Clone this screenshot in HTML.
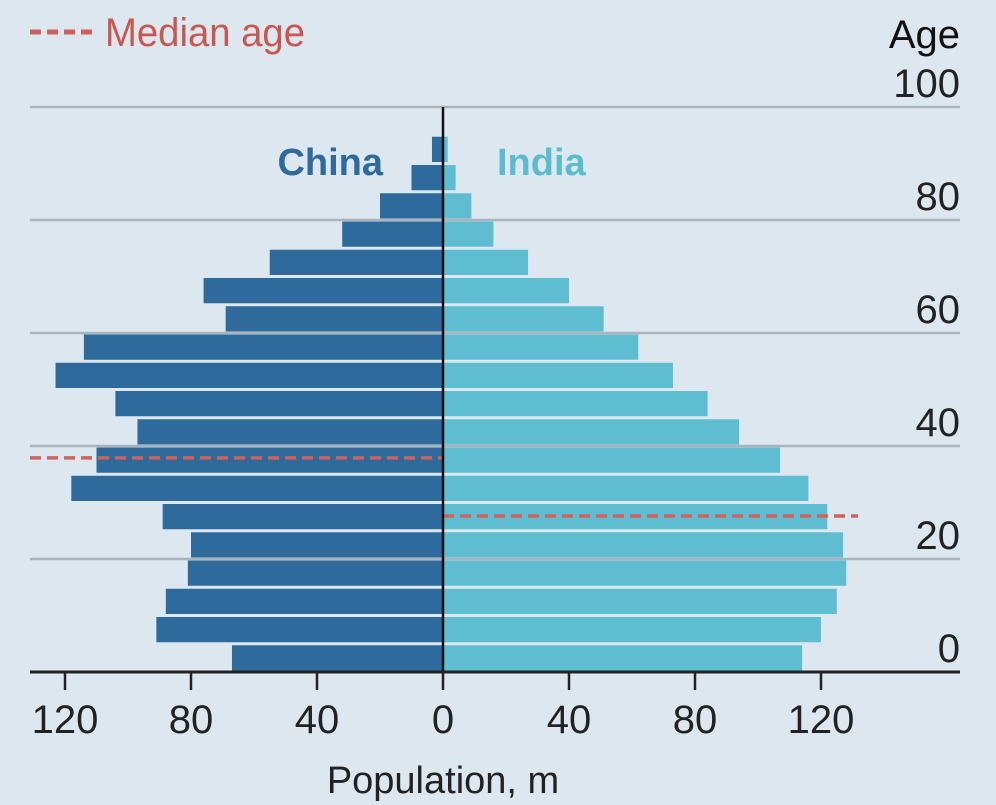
<!DOCTYPE html>
<html><head><meta charset="utf-8"><style>
html,body{margin:0;padding:0;background:#dce7ef;}
svg{display:block;}
text{font-family:"Liberation Sans Narrow","Liberation Sans",sans-serif;}
</style></head><body>
<svg id="chart" width="996" height="805" viewBox="0 0 996 805">
<rect width="996" height="805" fill="#dce7ef"/>
<g id="grid"></g><g id="bars"></g><g id="axes"></g>
<g>
<line x1="30" y1="32" x2="97" y2="32" stroke="#d0625a" stroke-width="5" stroke-dasharray="11,6"/>
<text x="105" y="46" font-size="40" fill="#c9574f" textLength="200" lengthAdjust="spacingAndGlyphs">Median age</text>
</g>
<text x="960" y="48" font-size="40" fill="#111" text-anchor="end">Age</text>
<text x="383" y="175" font-size="38" font-weight="bold" fill="#2e6a9b" text-anchor="end">China</text>
<text x="497" y="175" font-size="38" font-weight="bold" fill="#5bbccf">India</text>
<text x="443" y="793" font-size="38" fill="#222" text-anchor="middle">Population, m</text>
</svg>
<script>
const ageGroups=["0-4","5-9","10-14","15-19","20-24","25-29","30-34","35-39","40-44","45-49","50-54","55-59","60-64","65-69","70-74","75-79","80-84","85-89","90-94"];
const chinaPop=[67,91,88,81,80,89,118,110,97,104,123,114,69,76,55,32,20,10,3.5];
const indiaPop=[114,120,125,128,127,122,116,107,94,84,73,62,51,40,27,16,9,4,1.5];
const medianChina=37.9;
const medianIndia=27.6;
const xTicks=[-120,-80,-40,0,40,80,120];
const yTicks=[0,20,40,60,80,100];
const NS="http://www.w3.org/2000/svg";
const x0=443,pxPerM=3.15,yBase=672,pxPerYear=5.65;
const X=v=>x0+v*pxPerM;
const Y=a=>yBase-a*pxPerYear;
function mk(tag,attrs,parent){const e=document.createElementNS(NS,tag);for(const k in attrs)e.setAttribute(k,attrs[k]);parent.appendChild(e);return e;}
const grid=document.getElementById('grid'),bars=document.getElementById('bars'),axes=document.getElementById('axes');
yTicks.forEach(t=>{
  if(t>0){const l=mk('line',{x1:30,x2:960,y1:Y(t),y2:Y(t),stroke:'#a9b4bc','stroke-width':2.5},grid);
  
  }
  const tx=mk('text',{x:960,y:Y(t)-10,'font-size':40,fill:'#222','text-anchor':'end'},axes);
  tx.textContent=t;
  
  
});
ageGroups.forEach((g,i)=>{
  const top=Y(i*5+5)+1.5,h=5*pxPerYear-3;
  const c=mk('rect',{x:X(-chinaPop[i]),y:top,width:chinaPop[i]*pxPerM,height:h,fill:'#2f6a9c'},bars);
  
  
  const d=mk('rect',{x:X(0),y:top,width:indiaPop[i]*pxPerM,height:h,fill:'#5fbdd1'},bars);
  
  
});
const m1=mk('line',{x1:30,x2:X(0),y1:Y(medianChina),y2:Y(medianChina),stroke:'#d0625a','stroke-width':3.5,'stroke-dasharray':'11,6'},bars);


const m2=mk('line',{x1:X(0),x2:858,y1:Y(medianIndia),y2:Y(medianIndia),stroke:'#d0625a','stroke-width':3.5,'stroke-dasharray':'11,6'},bars);


const cl=mk('line',{x1:X(0),x2:X(0),y1:Y(100),y2:yBase,stroke:'#111','stroke-width':2.5},axes);


const bl=mk('line',{x1:30,x2:960,y1:yBase,y2:yBase,stroke:'#222','stroke-width':3},axes);


xTicks.forEach(t=>{
  const tk=mk('line',{x1:X(t),x2:X(t),y1:yBase,y2:yBase+18,stroke:'#222','stroke-width':2.5},axes);
  
  
  const tx=mk('text',{x:X(t),y:733,'font-size':40,fill:'#222','text-anchor':'middle'},axes);
  tx.textContent=Math.abs(t);
  
  
});
</script>
</body></html>
